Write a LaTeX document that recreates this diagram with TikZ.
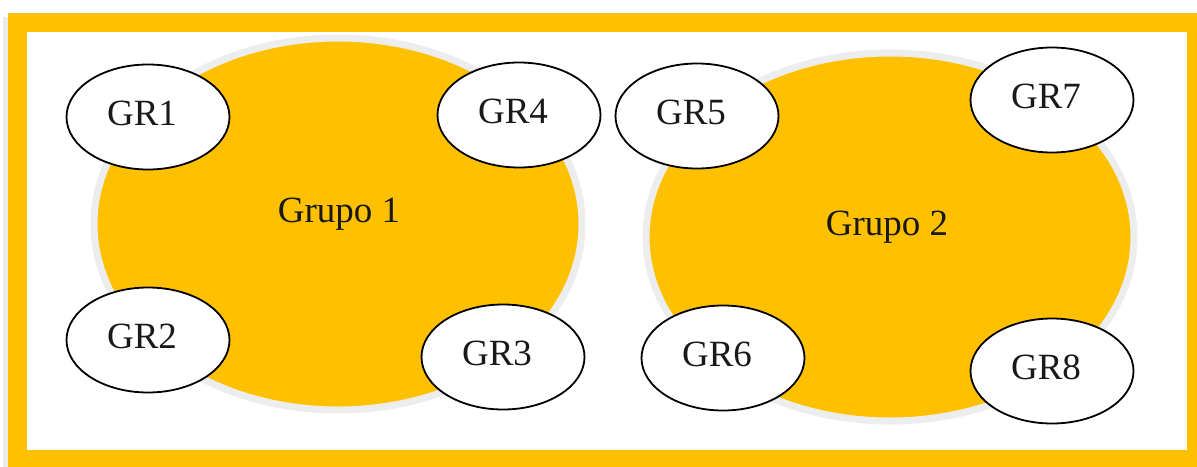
\documentclass[tikz,border=0pt]{standalone}
\usepackage{fontspec}
\setmainfont{Liberation Serif}
\usetikzlibrary{shapes.geometric}
\definecolor{gold}{HTML}{FFC000}
\definecolor{halo}{HTML}{ECEDEF}
\tikzset{
  grpell/.style={ellipse, fill=gold, draw=halo, line width=7pt, minimum width=488pt},
  grnode/.style={ellipse, draw=black, line width=1.8pt, fill=white,
    minimum width=163pt, minimum height=105pt, inner sep=0pt},
  txt/.style={font=\fontsize{37}{42}\selectfont, text=black!90},
}
\begin{document}
\begin{tikzpicture}[x=1pt,y=-1pt]
\useasboundingbox (0,0) rectangle (1197,466);
% frame with faint shadow
\fill[black!8] (3,17) rectangle (1205,474);
\fill[gold] (8,13) rectangle (1205,474);
\fill[white] (27,32) rectangle (1187,450);
% big group ellipses
\node[grpell, minimum height=372pt] (g1) at (338,224) {};
\node[txt] (t1) at (339,214) {Grupo 1};
\node[grpell, minimum height=368pt] (g2) at (890,237) {};
\node[txt] (t2) at (887,227) {Grupo 2};
% small ellipses
\foreach \n/\x/\y in {1/148/117, 4/519/115, 2/148/340, 3/503/357, 5/697/116, 7/1052/100, 6/723/358, 8/1052/371}{
  \node[grnode] (gr\n) at (\x,\y) {};
  \node[txt] (l\n) at ([xshift=-6pt,yshift=4pt]gr\n.center) {GR\n};
}
\end{tikzpicture}
\end{document}
